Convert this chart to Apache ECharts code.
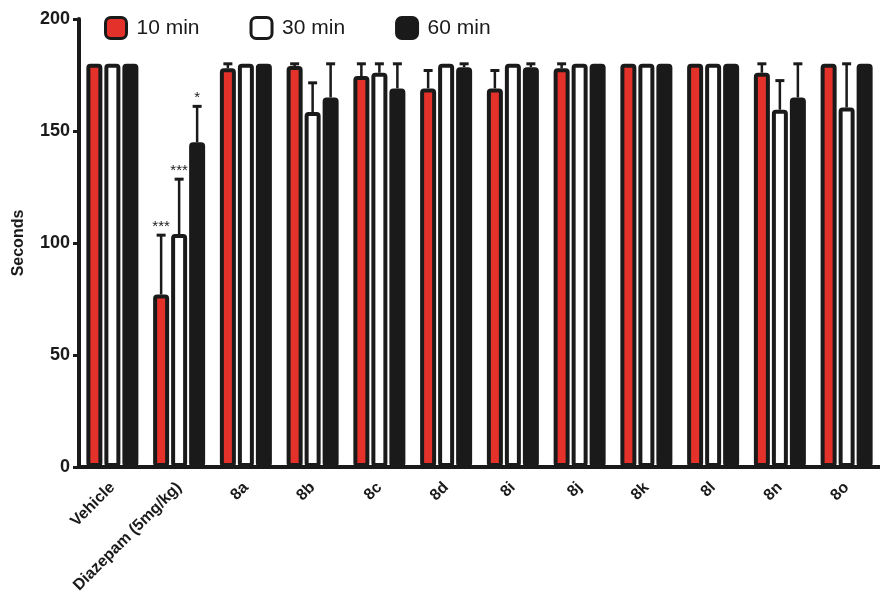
<!DOCTYPE html>
<html>
<head>
<meta charset="utf-8">
<script src="https://cdn.jsdelivr.net/npm/echarts@6/dist/echarts.min.js"></script>
<style>
html,body{margin:0;padding:0;background:#fff;}
#c{width:880px;height:597px;}
</style>
</head>
<body>
<div id="c"></div>
<script>
const categories = ['Vehicle','Diazepam (5mg/kg)','8a','8b','8c','8d','8i','8j','8k','8l','8n','8o'];
const seriesNames = ['10 min','30 min','60 min'];
const mean10 = [180, 77, 178, 179, 174.5, 169, 169, 178, 180, 180, 176, 180];
const err10  = [0, 26.5, 2, 1, 5.5, 8, 8, 2, 0, 0, 4, 0];
const mean30 = [180, 104, 180, 158.5, 176, 180, 180, 180, 180, 180, 159.5, 160.5];
const err30  = [0, 24.5, 0, 13, 4, 0, 0, 0, 0, 0, 13, 19.5];
const mean60 = [180, 145, 180, 165, 169, 178.5, 178.5, 180, 180, 180, 165, 180];
const err60  = [0, 16, 0, 15, 11, 1.5, 1.5, 0, 0, 0, 15, 0];
const stars10 = ['', '***', '', '', '', '', '', '', '', '', '', ''];
const stars30 = ['', '***', '', '', '', '', '', '', '', '', '', ''];
const stars60 = ['', '*', '', '', '', '', '', '', '', '', '', ''];
const yTicks = [0, 50, 100, 150, 200];

const FONT = 'Liberation Sans, Arial, Helvetica, sans-serif';
const colors = ['#e4322b', '#ffffff', '#1a1a1a'];
const BAR_W = 16, BAR_GAP = 0.125, BORDER = 4;
const means = [mean10, mean30, mean60];
const errs = [err10, err30, err60];
const stars = [stars10, stars30, stars60];

const chart = echarts.init(document.getElementById('c'), null, {renderer: 'canvas'});

const barSeries = seriesNames.map((n, s) => ({
  name: n,
  type: 'bar',
  barWidth: BAR_W,
  barGap: (BAR_GAP * 100) + '%',
  z: 3,
  data: means[s],
  itemStyle: { color: colors[s], borderColor: '#1a1a1a', borderWidth: BORDER, borderRadius: 2 },
  emphasis: { disabled: true }
}));

const errSeries = seriesNames.map((n, s) => ({
  type: 'custom',
  z: 2,
  silent: true,
  data: categories.map((c, i) => [i, means[s][i], errs[s][i]]),
  encode: { x: 0, y: 1 },
  renderItem: function (params, api) {
    const i = api.value(0), m = api.value(1), e = api.value(2);
    const st = stars[s][i];
    const step = BAR_W * (1 + BAR_GAP);
    const dx = (s - 1) * step;
    const p0 = api.coord([i, m]);
    const p1 = api.coord([i, m + e]);
    const x = p0[0] + dx;
    const children = [];
    if (e > 0) {
      children.push({ type: 'line', shape: { x1: x, y1: p0[1], x2: x, y2: p1[1] },
        style: { stroke: '#1a1a1a', lineWidth: 2.5 } });
      children.push({ type: 'line', shape: { x1: x - 4.5, y1: p1[1], x2: x + 4.5, y2: p1[1] },
        style: { stroke: '#1a1a1a', lineWidth: 3 } });
    }
    if (st) {
      children.push({ type: 'text', x: x, y: p1[1] - 1,
        style: { text: st, fill: '#1a1a1a', font: '15px ' + FONT, align: 'center', verticalAlign: 'bottom' } });
    }
    return { type: 'group', children: children };
  }
}));

chart.setOption({
  animation: false,
  backgroundColor: '#fff',
  legend: {
    data: seriesNames,
    left: 99, top: 11,
    itemWidth: 21, itemHeight: 21,
    itemGap: 50,
    icon: 'roundRect',
    selectedMode: false,
    itemStyle: { borderColor: '#1a1a1a', borderWidth: 3 },
    textStyle: { fontSize: 21, color: '#1a1a1a', fontFamily: FONT, padding: [0, 0, 0, 5] }
  },
  grid: { left: 79, right: -8, top: 19, bottom: 130, containLabel: false },
  xAxis: {
    type: 'category',
    data: categories,
    axisLine: { lineStyle: { color: '#1a1a1a', width: 4 } },
    axisTick: { alignWithLabel: true, length: 6, lineStyle: { color: '#1a1a1a', width: 3, cap: 'round' } },
    axisLabel: { rotate: 45, fontSize: 16, fontWeight: 'bold', color: '#1a1a1a', fontFamily: FONT, margin: 18, interval: 0 }
  },
  yAxis: {
    type: 'value',
    min: 0, max: 200, interval: 50,
    name: 'Seconds',
    nameLocation: 'middle',
    nameGap: 52,
    nameTextStyle: { fontSize: 16, fontWeight: 'bold', color: '#1a1a1a', fontFamily: FONT },
    splitLine: { show: false },
    axisLine: { show: true, lineStyle: { color: '#1a1a1a', width: 4 } },
    axisTick: { show: true, length: 6, lineStyle: { color: '#1a1a1a', width: 3 } },
    axisLabel: { fontSize: 18, fontWeight: 'bold', color: '#1a1a1a', fontFamily: FONT, margin: 9,
      formatter: v => yTicks.indexOf(v) >= 0 ? String(v) : '' }
  },
  series: barSeries.concat(errSeries)
});
</script>
</body>
</html>
